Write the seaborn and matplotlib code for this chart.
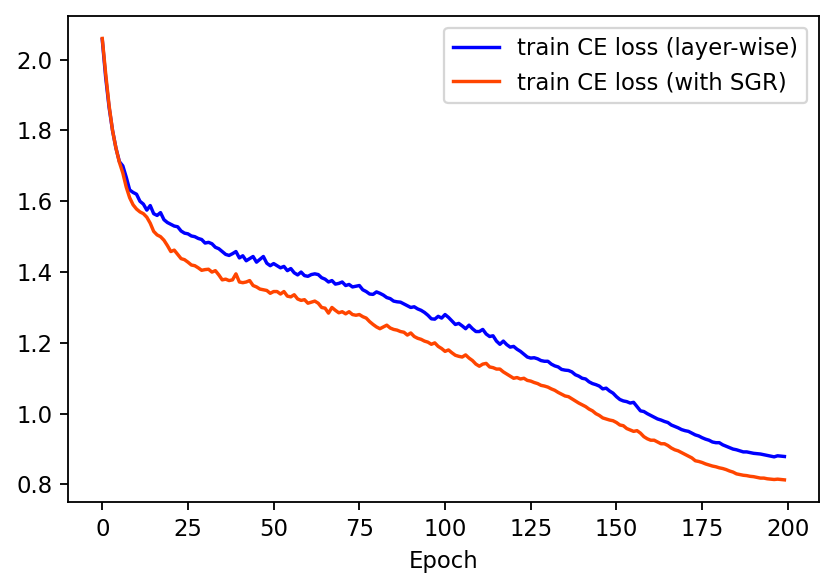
import numpy as np
import pandas as pd
import matplotlib
matplotlib.use("Agg")
import matplotlib.pyplot as plt
import seaborn as sns

layer_wise = [
    2.057, 1.950, 1.865, 1.800, 1.750, 1.712, 1.700, 1.668, 1.632, 1.625,
    1.620, 1.600, 1.592, 1.575, 1.588, 1.565, 1.560, 1.568, 1.548, 1.540,
    1.535, 1.530, 1.528, 1.516, 1.510, 1.508, 1.502, 1.500, 1.495, 1.492,
    1.482, 1.484, 1.480, 1.470, 1.466, 1.458, 1.450, 1.447, 1.452, 1.458,
    1.440, 1.446, 1.432, 1.438, 1.444, 1.428, 1.436, 1.444, 1.425, 1.418,
    1.424, 1.418, 1.412, 1.416, 1.404, 1.410, 1.398, 1.392, 1.400, 1.390,
    1.388, 1.393, 1.395, 1.393, 1.384, 1.380, 1.372, 1.376, 1.366, 1.368,
    1.372, 1.362, 1.365, 1.358, 1.360, 1.362, 1.350, 1.345, 1.338, 1.337,
    1.344, 1.340, 1.335, 1.328, 1.325, 1.318, 1.316, 1.315, 1.310, 1.305,
    1.300, 1.302, 1.296, 1.292, 1.286, 1.278, 1.268, 1.267, 1.275, 1.270,
    1.280, 1.272, 1.262, 1.252, 1.255, 1.248, 1.240, 1.250, 1.240, 1.232,
    1.232, 1.238, 1.225, 1.218, 1.220, 1.205, 1.196, 1.205, 1.195, 1.188,
    1.190, 1.182, 1.176, 1.168, 1.160, 1.157, 1.158, 1.155, 1.150, 1.148,
    1.148, 1.140, 1.135, 1.132, 1.125, 1.123, 1.122, 1.118, 1.110, 1.106,
    1.100, 1.098, 1.090, 1.085, 1.082, 1.078, 1.070, 1.072, 1.064, 1.058,
    1.048, 1.040, 1.036, 1.034, 1.030, 1.032, 1.020, 1.008, 1.006, 1.000,
    0.995, 0.990, 0.985, 0.982, 0.978, 0.975, 0.968, 0.964, 0.960, 0.955,
    0.952, 0.950, 0.945, 0.940, 0.937, 0.932, 0.928, 0.925, 0.920, 0.918,
    0.918, 0.912, 0.908, 0.904, 0.900, 0.898, 0.895, 0.892, 0.892, 0.890,
    0.888, 0.887, 0.886, 0.884, 0.882, 0.880, 0.878, 0.881, 0.880, 0.879,
]

with_sgr = [
    2.060, 1.960, 1.870, 1.800, 1.750, 1.710, 1.680, 1.640, 1.610, 1.590,
    1.578, 1.570, 1.565, 1.555, 1.538, 1.515, 1.505, 1.500, 1.490, 1.475,
    1.458, 1.462, 1.450, 1.438, 1.435, 1.428, 1.420, 1.418, 1.412, 1.405,
    1.407, 1.408, 1.400, 1.404, 1.392, 1.378, 1.380, 1.376, 1.378, 1.395,
    1.372, 1.370, 1.372, 1.376, 1.362, 1.358, 1.352, 1.350, 1.348, 1.340,
    1.345, 1.345, 1.338, 1.345, 1.332, 1.330, 1.336, 1.324, 1.320, 1.322,
    1.312, 1.315, 1.318, 1.312, 1.300, 1.298, 1.284, 1.300, 1.292, 1.285,
    1.288, 1.282, 1.288, 1.280, 1.278, 1.280, 1.274, 1.270, 1.260, 1.252,
    1.245, 1.240, 1.245, 1.250, 1.242, 1.238, 1.236, 1.232, 1.230, 1.222,
    1.228, 1.218, 1.213, 1.210, 1.205, 1.202, 1.196, 1.200, 1.190, 1.184,
    1.176, 1.180, 1.172, 1.165, 1.162, 1.160, 1.166, 1.157, 1.150, 1.140,
    1.134, 1.140, 1.142, 1.132, 1.130, 1.126, 1.126, 1.118, 1.112, 1.106,
    1.100, 1.102, 1.098, 1.100, 1.094, 1.092, 1.088, 1.085, 1.080, 1.078,
    1.075, 1.070, 1.066, 1.060, 1.055, 1.050, 1.048, 1.042, 1.036, 1.030,
    1.025, 1.020, 1.013, 1.008, 1.000, 0.995, 0.988, 0.985, 0.982, 0.980,
    0.975, 0.968, 0.966, 0.958, 0.954, 0.950, 0.952, 0.945, 0.935, 0.929,
    0.925, 0.925, 0.920, 0.915, 0.915, 0.910, 0.903, 0.898, 0.895, 0.890,
    0.885, 0.880, 0.875, 0.867, 0.865, 0.862, 0.858, 0.855, 0.852, 0.850,
    0.847, 0.845, 0.842, 0.838, 0.835, 0.830, 0.828, 0.826, 0.825, 0.823,
    0.822, 0.820, 0.818, 0.818, 0.816, 0.815, 0.814, 0.815, 0.814, 0.813,
]

labels = ["train CE loss (layer-wise)", "train CE loss (with SGR)"]
colors = ["blue", "orangered"]

epochs = np.arange(len(layer_wise))
df = pd.DataFrame({
    "Epoch": np.concatenate([epochs, epochs]),
    "loss": layer_wise + with_sgr,
    "series": [labels[0]] * len(layer_wise) + [labels[1]] * len(with_sgr),
})

dpi = 164
fig, ax = plt.subplots(figsize=(831 / dpi, 585 / dpi), dpi=dpi)
sns.lineplot(data=df, x="Epoch", y="loss", hue="series",
             palette=colors, linewidth=1.5, ax=ax)
ax.set_ylabel("")
ax.set_xlabel("Epoch")
ax.set_xticks([0, 25, 50, 75, 100, 125, 150, 175, 200])
ax.legend(loc="upper right")
plt.subplots_adjust(left=0.082, right=0.985, top=0.972, bottom=0.142)
plt.savefig("out.png", dpi=dpi)
